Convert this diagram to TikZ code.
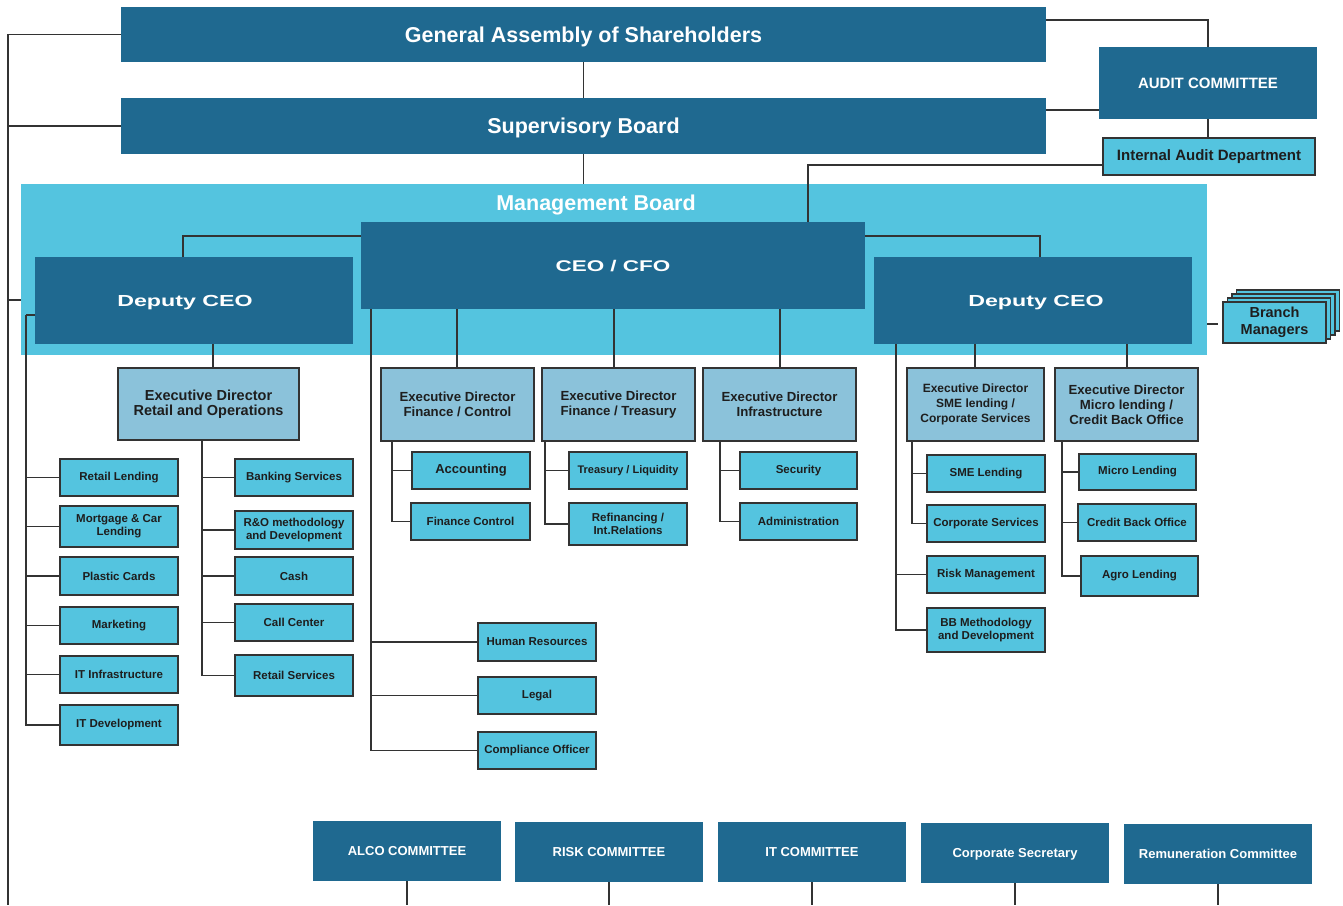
\documentclass[tikz,border=0pt]{standalone}
\usepackage{fontspec}
\setmainfont{Liberation Sans}
\newfontfamily\widefont[FakeStretch=1.45]{Liberation Sans}
\usetikzlibrary{calc}
\definecolor{dblue}{HTML}{1F6990}
\definecolor{cyanb}{HTML}{54C4DF}
\definecolor{lblue}{HTML}{8BC2DA}
\definecolor{lc}{HTML}{333333}
\definecolor{txt}{HTML}{1E1E1E}
\newcommand\fsz[2]{\fontsize{#1}{#2}\selectfont}
\newcommand\bx[7]{\node[#6, minimum width={(#4-#2)*1pt}, minimum height={(#5-#3)*1pt}] (#1) at ({(#2+#4)/2},{(#3+#5)/2}) {#7};}
\tikzset{
 dark/.style={fill=dblue, text=white, inner sep=1pt, align=center, text depth=0pt},
 execb/.style={fill=lblue, draw=lc, line width=1.3pt, text=txt, align=center, inner sep=1pt},
 leaf/.style={fill=cyanb, draw=lc, line width=1.6pt, text=txt, align=center, inner sep=1pt, font=\bfseries\fsz{11.5}{13}},
 conn/.style={draw=lc, line width=1.5pt},
}
\begin{document}
\begin{tikzpicture}[x=1pt,y=-1pt]
\useasboundingbox (0,0) rectangle (1343,905);
% management board background
\bx{mb}{21}{184}{1207}{355}{fill=cyanb, inner sep=0pt}{}
\node[text=white, font=\bfseries\fsz{21.5}{25}, text depth=0pt] (mbt) at (596,203) {Management Board};
% top boxes
\bx{ga}{121}{7}{1046}{62}{dark, font=\bfseries\fsz{21.5}{25}}{General Assembly of Shareholders}
\bx{sb}{121}{98}{1046}{154}{dark, font=\bfseries\fsz{21.5}{25}}{Supervisory Board}
\bx{audit}{1099}{47}{1317}{119}{dark, font=\bfseries\fsz{15}{18}}{AUDIT COMMITTEE}
\bx{iad}{1103}{138}{1315}{175}{leaf, font=\bfseries\fsz{15}{18}}{Internal Audit Department}
\bx{ceo}{361}{222}{865}{309}{dark, font=\widefont\bfseries\fsz{15.5}{18}}{CEO / CFO}
\bx{dl}{35}{257}{353}{344}{dark, font=\widefont\bfseries\fsz{16}{19}}{Deputy CEO\hspace*{18pt}}
\bx{dr}{874}{257}{1192}{344}{dark, font=\widefont\bfseries\fsz{16}{19}}{\hspace*{6pt}Deputy CEO}
% branch managers stack
\foreach \i in {3,2,1}
  \draw[fill=cyanb, draw=lc, line width=1.3pt] ({1223+4.5*\i},{302-4*\i}) rectangle ({1326+4.5*\i},{343-4*\i});
\bx{bm}{1223}{302}{1326}{343}{leaf, line width=1.3pt, font=\bfseries\fsz{14.5}{16.5}}{Branch\\Managers}
% executive directors
\bx{edr}{118}{368}{299}{440}{execb, font=\bfseries\fsz{14.5}{15}}{Executive Director\\Retail and Operations}
\bx{edfc}{381}{368}{534}{441}{execb, font=\bfseries\fsz{13.2}{15}}{Executive Director\\Finance / Control}
\bx{edft}{542}{368}{695}{441}{execb, font=\bfseries\fsz{13.2}{15}}{Executive Director\\Finance / Treasury}
\bx{edi}{703}{368}{856}{441}{execb, font=\bfseries\fsz{13.2}{15}}{Executive Director\\Infrastructure}
\bx{edsme}{907}{368}{1044}{441}{execb, font=\bfseries\fsz{12}{15}}{Executive Director\\SME lending /\\Corporate Services}
\bx{edm}{1055}{368}{1198}{441}{execb, font=\bfseries\fsz{13.2}{15}}{Executive Director\\Micro lending /\\Credit Back Office}
% left column
\bx{rl}{60}{459}{178}{496}{leaf}{Retail Lending}
\bx{mcl}{60}{506}{178}{547}{leaf}{Mortgage \& Car\\Lending}
\bx{pc}{60}{557}{178}{595}{leaf}{Plastic Cards}
\bx{mk}{60}{607}{178}{644}{leaf}{Marketing}
\bx{iti}{60}{656}{178}{693}{leaf}{IT Infrastructure}
\bx{itd}{60}{705}{178}{745}{leaf}{IT Development}
% retail right column
\bx{bs}{235}{459}{353}{496}{leaf}{Banking Services}
\bx{ro}{235}{511}{353}{549}{leaf}{R\&O methodology\\and Development}
\bx{cash}{235}{557}{353}{595}{leaf}{Cash}
\bx{cc}{235}{604}{353}{641}{leaf}{Call Center}
\bx{rs}{235}{655}{353}{696}{leaf}{Retail Services}
% finance control
\bx{acc}{412}{452}{530}{489}{leaf, font=\bfseries\fsz{13}{15}}{Accounting}
\bx{fcon}{411}{503}{530}{540}{leaf}{Finance Control}
% treasury
\bx{tl}{569}{452}{687}{489}{leaf, font=\bfseries\fsz{11}{13}}{Treasury / Liquidity}
\bx{ref}{569}{503}{687}{545}{leaf}{Refinancing /\\Int.Relations}
% infrastructure
\bx{sec}{740}{452}{857}{489}{leaf}{Security}
\bx{adm}{740}{503}{857}{540}{leaf}{Administration}
% SME
\bx{smel}{927}{455}{1045}{492}{leaf}{SME Lending}
\bx{corp}{927}{505}{1045}{542}{leaf}{Corporate Services}
\bx{risk}{927}{556}{1045}{593}{leaf}{Risk Management}
\bx{bbm}{927}{608}{1045}{652}{leaf}{BB Methodology\\and Development}
% micro
\bx{ml}{1079}{454}{1196}{490}{leaf}{Micro Lending}
\bx{cbo}{1078}{504}{1196}{541}{leaf}{Credit Back Office}
\bx{agro}{1081}{556}{1198}{596}{leaf}{Agro Lending}
% CEO staff
\bx{hr}{478}{623}{596}{661}{leaf}{Human Resources}
\bx{legal}{478}{677}{596}{714}{leaf}{Legal}
\bx{co}{478}{732}{596}{769}{leaf}{Compliance Officer}
% committees
\bx{alco}{313}{821}{501}{881}{dark, font=\bfseries\fsz{13}{15}}{ALCO COMMITTEE}
\bx{riskc}{515}{822}{703}{882}{dark, font=\bfseries\fsz{13}{15}}{RISK COMMITTEE}
\bx{itc}{718}{822}{906}{882}{dark, font=\bfseries\fsz{13}{15}}{IT COMMITTEE}
\bx{cs}{921}{823}{1109}{883}{dark, font=\bfseries\fsz{13}{15}}{Corporate Secretary}
\bx{rem}{1124}{824}{1312}{884}{dark, font=\bfseries\fsz{13}{15}}{Remuneration Committee}
% ---------- connectors ----------
\coordinate (oL) at (8,34.5);
\coordinate (oB) at (8,905);
\coordinate (oM) at (8,300);
\draw[conn] (ga.west) -- (oL) -- (oB);
\draw[conn] (sb.west) -- (sb.west -| oL);
\draw[conn] (oM) -- (oM -| mb.west);
\draw[conn] (ga.south) -- (ga.south |- sb.north);
\draw[conn] (sb.south) -- (sb.south |- mb.north);
\coordinate (gaA) at (1046,20);
\draw[conn] (gaA) -| (audit.north);
\coordinate (sbA) at (1046,110);
\draw[conn] (sbA) -- (sbA -| audit.west);
\draw[conn] (audit.south) -- (audit.south |- iad.north);
\coordinate (iadC) at (1103,165);
\coordinate (ceoT) at (808,222);
\draw[conn] (iadC) -| (ceoT);
\coordinate (cL) at (361,236);
\coordinate (dlT) at (183,257);
\draw[conn] (cL) -| (dlT);
\coordinate (cR) at (865,236);
\coordinate (drT) at (1040,257);
\draw[conn] (cR) -| (drT);
\coordinate (bmL) at (1207,324);
\coordinate (bmR) at (1218,324);
\draw[conn] (bmL) -- (bmR);
% deputy left
\coordinate (dlB) at (213,344);
\draw[conn] (dlB) -- (dlB |- edr.north);
\coordinate (dlW) at (35,315);
\coordinate (t1) at (26,315);
\draw[conn] (dlW) -- (t1);
\foreach \n in {rl,mcl,pc,mk,iti,itd} \draw[conn] (t1) |- (\n.west);
\coordinate (t2) at (202,440);
\foreach \n in {bs,ro,cash,cc,rs} \draw[conn] (t2) |- (\n.west);
% CEO
\coordinate (t3) at (371,309);
\foreach \n in {hr,legal,co} \draw[conn] (t3) |- (\n.west);
\coordinate (c1) at (457,309);
\coordinate (c2) at (614,309);
\coordinate (c3) at (780,309);
\draw[conn] (c1) -- (c1 |- edfc.north);
\draw[conn] (c2) -- (c2 |- edft.north);
\draw[conn] (c3) -- (c3 |- edi.north);
\coordinate (t4) at (392,441);
\foreach \n in {acc,fcon} \draw[conn] (t4) |- (\n.west);
\coordinate (t5) at (545,441);
\foreach \n in {tl,ref} \draw[conn] (t5) |- (\n.west);
\coordinate (t6) at (720,441);
\foreach \n in {sec,adm} \draw[conn] (t6) |- (\n.west);
% deputy right
\coordinate (t7) at (896,344);
\foreach \n in {risk,bbm} \draw[conn] (t7) |- (\n.west);
\coordinate (d1) at (975,344);
\coordinate (d2) at (1127,344);
\draw[conn] (d1) -- (d1 |- edsme.north);
\draw[conn] (d2) -- (d2 |- edm.north);
\coordinate (t8) at (912,441);
\foreach \n in {smel,corp} \draw[conn] (t8) |- (\n.west);
\coordinate (t9) at (1062,441);
\foreach \n in {ml,cbo,agro} \draw[conn] (t9) |- (\n.west);
% committees
\foreach \n in {alco,riskc,itc,cs,rem} \draw[conn] (\n.south) -- (\n.south |- oB);
\end{tikzpicture}
\end{document}
